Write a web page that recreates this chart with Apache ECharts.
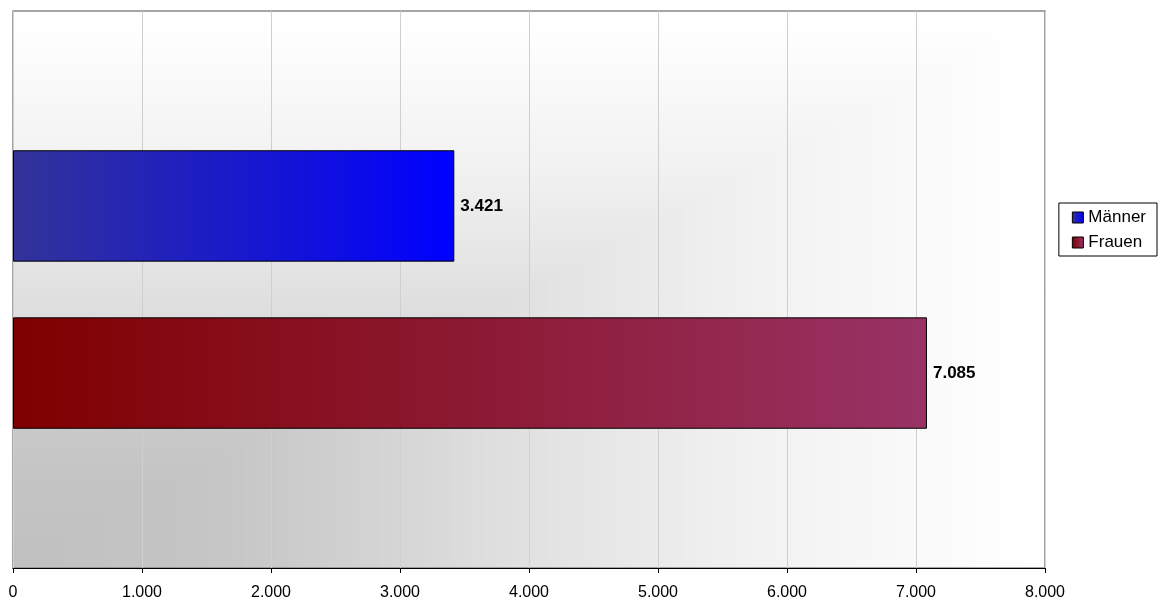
<!DOCTYPE html>
<html><head><meta charset="utf-8">
<script src="https://cdn.jsdelivr.net/npm/echarts@6/dist/echarts.min.js"></script>
<style>html,body{margin:0;padding:0;background:#fff}#c{width:1160px;height:603px}</style>
</head><body><div id="c"></div>
<script>
const categories = [''];
const seriesNames = ['Männer', 'Frauen'];
const maennerValues = [3421];
const frauenValues = [7085];
const xTicks = [0, 1000, 2000, 3000, 4000, 5000, 6000, 7000, 8000];

function fmt(v){ return String(Math.round(v)).replace(/\B(?=(\d{3})+(?!\d))/g, '.'); }
function grad(a,b){ return new echarts.graphic.LinearGradient(0,0,1,0,[{offset:0,color:a},{offset:1,color:b}]); }

// plot-area geometry
const G = {left:13, top:11, width:1032, height:557};

// "from corner" rectangular gradient background (bottom-left grey -> white)
function makeBg(w, h){
  const cv = document.createElement('canvas'); cv.width = w; cv.height = h;
  const ctx = cv.getContext('2d'); const img = ctx.createImageData(w, h);
  const st = [[0,192],[0.18,197],[0.25,201],[0.45,221],[0.55,229],[0.71,241],[0.96,254],[1,255]];
  function col(t){ for(let i=1;i<st.length;i++){ if(t<=st[i][0]){ const a=st[i-1],b=st[i]; return a[1]+(b[1]-a[1])*(t-a[0])/(b[0]-a[0]); } } return 255; }
  for(let y=0;y<h;y++){ const v=(h-1-y)/(h-1); for(let x=0;x<w;x++){ const u=x/(w-1); const c=Math.round(col(Math.max(u,v))); const k=(y*w+x)*4; img.data[k]=c; img.data[k+1]=c; img.data[k+2]=c; img.data[k+3]=255; } }
  ctx.putImageData(img,0,0); return cv;
}
const bg = makeBg(G.width, G.height);

const chart = echarts.init(document.getElementById('c'), null, {renderer:'canvas'});
const labelCfg = {show:true, position:'right', distance:6, formatter:p=>fmt(p.value), fontFamily:'Liberation Sans, Arial', fontWeight:'bold', fontSize:17, color:'#000'};
chart.setOption({
  animation:false,
  textStyle:{fontFamily:'Liberation Sans, Arial'},
  graphic:[{type:'image', left:G.left, top:G.top, z:-10, silent:true, style:{image:bg, width:G.width, height:G.height}}],
  grid:{left:G.left, right:1160-G.left-G.width, top:G.top, bottom:603-G.top-G.height, show:true, borderColor:'#888', borderWidth:1.5, backgroundColor:'transparent'},
  legend:{orient:'vertical', right:3, top:203, itemWidth:11, itemHeight:11, itemGap:8,
    padding:[6,11,5,13], borderColor:'#000', borderWidth:1, backgroundColor:'#fff',
    textStyle:{fontSize:17, lineHeight:17, color:'#000'},
    data:seriesNames.map(n=>({name:n, icon:'rect', itemStyle:{borderColor:'#000', borderWidth:1}}))},
  xAxis:{type:'value', min:xTicks[0], max:xTicks[xTicks.length-1], interval:xTicks[1]-xTicks[0],
    axisLine:{show:true, lineStyle:{color:'#000'}}, axisTick:{show:true, length:5, lineStyle:{color:'#000'}},
    axisLabel:{formatter:fmt, fontSize:16, color:'#000', margin:17},
    splitLine:{show:true, lineStyle:{color:'#cfcfcf'}}},
  yAxis:{type:'category', data:categories, inverse:true, axisLine:{show:false}, axisTick:{show:false}, axisLabel:{show:false}},
  series:[
    {name:seriesNames[0], type:'bar', data:maennerValues, barCategoryGap:'50%', barGap:'50%',
      itemStyle:{color:grad('#333399','#0000ff'), borderColor:'#000', borderWidth:1}, label:labelCfg},
    {name:seriesNames[1], type:'bar', data:frauenValues, barCategoryGap:'50%', barGap:'50%',
      itemStyle:{color:grad('#800000','#993366'), borderColor:'#000', borderWidth:1}, label:labelCfg}
  ]
});
</script></body></html>
